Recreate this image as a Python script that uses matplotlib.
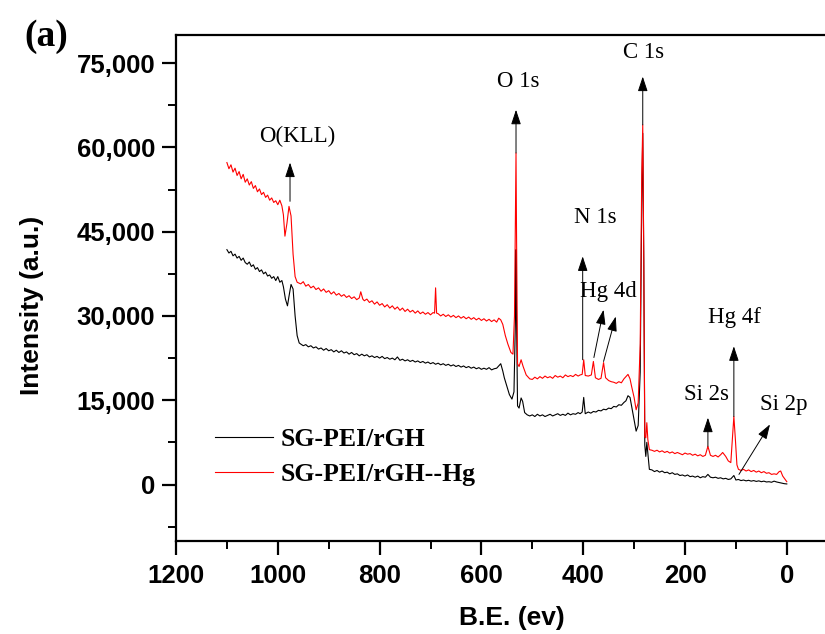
import matplotlib.pyplot as plt
from matplotlib.ticker import MultipleLocator

# (binding energy eV, intensity)
spec_rgh = [
    (1100, 41800), (1096, 41200), (1092, 41500), (1088, 40700), (1084, 41000), (1080, 40300), (1076, 40600),
    (1072, 39900), (1068, 40300), (1064, 39500), (1060, 39200), (1056, 39600), (1052, 38800), (1048, 39100),
    (1044, 38300), (1040, 38600), (1036, 37900), (1032, 38200), (1028, 37500), (1024, 37800), (1020, 37100),
    (1016, 37300), (1012, 36700), (1008, 37000), (1004, 36300), (1000, 37000), (996, 36000), (992, 36300),
    (989, 35200), (985, 33000), (981, 31800), (978, 33500), (974, 35600), (970, 34800), (966, 30000),
    (962, 26500), (958, 25200), (955, 25000), (950, 24700), (945, 24900), (940, 24500), (935, 24700),
    (930, 24300), (925, 24500), (920, 24100), (915, 24300), (910, 23900), (905, 24200), (900, 23800),
    (895, 24000), (890, 23600), (885, 23900), (880, 23500), (875, 23800), (870, 23400), (865, 23600),
    (860, 23200), (855, 23500), (850, 23100), (845, 23300), (840, 22900), (835, 23200), (830, 22900),
    (825, 23100), (820, 22700), (815, 22900), (810, 22600), (805, 22800), (800, 22500), (795, 22800),
    (790, 22400), (785, 22600), (780, 22300), (775, 22500), (770, 22200), (765, 22700), (760, 22100),
    (755, 22300), (750, 22000), (745, 22200), (740, 21900), (735, 22100), (730, 21800), (725, 22000),
    (720, 21700), (715, 21900), (710, 21600), (705, 21800), (700, 21500), (695, 21700), (690, 21400),
    (685, 21600), (680, 21300), (675, 21500), (670, 21200), (665, 21400), (660, 21100), (655, 21300),
    (650, 21000), (645, 21200), (640, 20900), (635, 21100), (630, 20800), (625, 21000), (620, 20700),
    (615, 20900), (610, 20600), (605, 20800), (600, 20500), (595, 20700), (590, 20500), (585, 20800),
    (580, 20400), (575, 20600), (570, 20700), (566, 21100), (562, 21500), (558, 20200), (555, 19000),
    (550, 17500), (545, 16000), (540, 15200), (536, 16500), (533, 30000), (532, 41800), (531, 30000),
    (529, 14000), (526, 13600), (522, 15400), (519, 14800), (515, 12800), (510, 12400), (505, 12200),
    (500, 12400), (495, 12100), (490, 12500), (485, 12200), (480, 12400), (475, 12100), (470, 12300),
    (465, 12500), (460, 12200), (455, 12400), (450, 12600), (445, 12300), (440, 12500), (435, 12300),
    (430, 12700), (425, 12400), (420, 12600), (415, 12500), (410, 12800), (406, 12600), (402, 12900),
    (399, 15500), (396, 12600), (390, 12900), (385, 12700), (380, 13000), (375, 12900), (370, 13200),
    (365, 13100), (360, 13400), (355, 13300), (350, 13600), (345, 13500), (340, 13900), (335, 13800),
    (330, 14200), (325, 14100), (320, 14600), (316, 14900), (312, 15800), (308, 15500), (305, 14000),
    (300, 11500), (296, 9500), (292, 10500), (288, 20000), (285, 50000), (283, 62500), (281, 40000),
    (279, 7000), (277, 5000), (275, 7500), (273, 5500), (270, 2700), (265, 2600), (260, 2300), (255, 2500),
    (250, 2200), (245, 2400), (240, 2100), (235, 2200), (230, 1900), (225, 2100), (220, 1800), (215, 1900),
    (210, 1600), (205, 1700), (200, 1500), (195, 1700), (190, 1400), (185, 1500), (180, 1300), (175, 1500),
    (170, 1200), (165, 1400), (160, 1300), (155, 1800), (150, 1300), (145, 1200), (140, 1300), (135, 1100),
    (130, 1200), (125, 1000), (120, 1100), (115, 900), (110, 1000), (104, 1600), (100, 800), (95, 900),
    (90, 700), (85, 800), (80, 650), (75, 750), (70, 600), (65, 700), (60, 550), (55, 650), (50, 500),
    (45, 600), (40, 450), (35, 500), (30, 400), (25, 600), (20, 450), (15, 350), (10, 250), (5, 150), (0, 100),
]

spec_hg = [
    (1100, 57300), (1096, 56200), (1092, 56900), (1088, 55600), (1084, 56300), (1080, 55000), (1076, 55700),
    (1072, 54400), (1068, 55200), (1064, 53800), (1060, 54400), (1056, 53300), (1052, 53900), (1048, 52700),
    (1044, 53200), (1040, 52100), (1036, 52600), (1032, 51600), (1028, 52000), (1024, 51100), (1020, 51500),
    (1016, 50600), (1012, 51000), (1008, 50200), (1004, 50500), (1000, 49800), (996, 50600), (992, 49600),
    (989, 48000), (986, 44200), (982, 46500), (978, 49500), (974, 47800), (970, 41000), (966, 37000),
    (962, 36000), (955, 35700), (950, 36100), (945, 35300), (940, 35600), (935, 35000), (930, 35300),
    (925, 34700), (920, 35000), (915, 34400), (910, 34800), (905, 34200), (900, 34500), (895, 33900),
    (890, 34300), (885, 33700), (880, 34000), (875, 33500), (870, 33800), (865, 33300), (860, 33600),
    (855, 33100), (850, 33400), (845, 32900), (840, 33200), (837, 34300), (833, 33000), (830, 32700),
    (825, 33000), (820, 32400), (815, 32700), (810, 32100), (805, 32500), (800, 31900), (795, 32200),
    (790, 31600), (785, 32000), (780, 31400), (775, 31800), (770, 31200), (765, 31600), (760, 31000),
    (755, 31400), (750, 30800), (745, 31200), (740, 30700), (735, 31000), (730, 30500), (725, 30900),
    (720, 30400), (715, 30700), (710, 30300), (705, 30600), (700, 30200), (695, 30600), (692, 30500),
    (690, 35000), (688, 30500), (685, 30400), (680, 30000), (675, 30300), (670, 29900), (665, 30200),
    (660, 29800), (655, 30100), (650, 29700), (645, 30000), (640, 29600), (635, 29900), (630, 29500),
    (625, 29800), (620, 29400), (615, 29700), (610, 29300), (605, 29600), (600, 29200), (595, 29500),
    (590, 29100), (585, 29400), (580, 29000), (575, 29300), (570, 28900), (566, 29600), (562, 29300),
    (558, 28500), (553, 26500), (548, 25000), (542, 23500), (538, 23200), (535, 30000), (533, 50000),
    (532, 59000), (531, 45000), (529, 21500), (526, 21000), (522, 22200), (518, 21000), (512, 19500),
    (505, 18800), (500, 18700), (495, 19100), (490, 18800), (485, 19200), (480, 18900), (475, 19300),
    (470, 19000), (465, 19200), (460, 18900), (455, 19400), (450, 19100), (445, 19300), (440, 19000),
    (435, 19500), (430, 19200), (425, 19400), (420, 19200), (415, 19600), (410, 19300), (406, 19500),
    (402, 19600), (399, 22200), (396, 19400), (390, 19300), (384, 19500), (380, 21900), (376, 19000),
    (370, 18700), (365, 18900), (360, 21700), (356, 19000), (350, 18500), (345, 18300), (340, 18200),
    (335, 18000), (330, 18300), (325, 18100), (320, 18800), (316, 19200), (312, 19600), (308, 18800),
    (305, 17500), (300, 15500), (296, 13300), (292, 14500), (288, 25000), (285, 55000), (283, 64000),
    (281, 40000), (279, 8500), (277, 8300), (275, 11000), (273, 8000), (270, 6200), (265, 6100), (260, 5900),
    (255, 6100), (250, 5800), (245, 6000), (240, 5700), (235, 5900), (230, 5600), (225, 5800), (220, 5500),
    (215, 5700), (210, 5500), (205, 5300), (200, 5600), (195, 5400), (190, 5500), (185, 5200), (180, 5400),
    (175, 5100), (170, 5300), (165, 5000), (160, 5200), (155, 6800), (150, 5200), (145, 5000), (140, 5200),
    (135, 4900), (130, 5300), (126, 5700), (120, 5000), (115, 4200), (110, 3900), (107, 8000), (104, 12100),
    (101, 8000), (98, 3500), (95, 2700), (90, 2500), (85, 2700), (80, 2400), (75, 2600), (70, 2300),
    (65, 2500), (60, 2200), (55, 2400), (50, 2100), (45, 2300), (40, 2000), (35, 2100), (30, 1800),
    (25, 1900), (20, 1800), (15, 2300), (12, 2400), (8, 1500), (4, 1000), (0, 500),
]

series_names = ['SG-PEI/rGH', 'SG-PEI/rGH--Hg']
x_ticks = [1200, 1000, 800, 600, 400, 200, 0]
y_ticks = [0, 15000, 30000, 45000, 60000, 75000]
y_tick_labels = ['0', '15,000', '30,000', '45,000', '60,000', '75,000']

# peak labels: text, text position, arrow start, arrow tip
peak_labels = ['O(KLL)', 'O 1s', 'C 1s', 'N 1s', 'Hg 4d', 'Hg 4f', 'Si 2s', 'Si 2p']
label_pos = [(961, 61900), (528, 71700), (281, 76800), (377, 47500), (350, 34400), (102, 29700),
             (157, 16000), (6, 14200)]
arrows = [((976, 50400), (976, 57300)), ((532, 59000), (532, 66700)), ((283, 64000), (283, 72600)),
          ((401, 22200), (401, 40600)), ((379, 22600), (360, 31100)), ((360, 21900), (336, 29900)),
          ((104, 12100), (104, 24600)), ((155, 6800), (155, 11900)), ((94, 1800), (33, 10700))]

be_rgh, int_rgh = zip(*spec_rgh)
be_hg, int_hg = zip(*spec_hg)

plt.rcParams['font.family'] = 'Liberation Sans'

fig = plt.figure(figsize=(8.25, 6.34), dpi=100)
ax = fig.add_axes([176 / 825, 93.3 / 634, 661.7 / 825, 505.7 / 634])

ax.plot(be_rgh, int_rgh, color='black', lw=0.8, label=series_names[0])
ax.plot(be_hg, int_hg, color='red', lw=0.8, label=series_names[1])

ax.set_xlim(1200, -100)
ax.set_ylim(-10000, 80000)

ax.set_xticks(x_ticks)
ax.set_yticks(y_ticks)
ax.set_yticklabels(y_tick_labels)
ax.xaxis.set_minor_locator(MultipleLocator(100))
ax.yaxis.set_minor_locator(MultipleLocator(7500))
ax.tick_params(which='major', direction='out', length=10, width=1.6, labelsize=18.5)
ax.tick_params(which='minor', direction='out', length=6, width=1.4)
ax.tick_params(axis='x', pad=7)
ax.tick_params(axis='y', pad=5)
for lab in ax.get_xticklabels() + ax.get_yticklabels():
    lab.set_fontweight('bold')
for sp in ax.spines.values():
    sp.set_linewidth(1.6)

ax.set_xlabel('B.E. (ev)', fontsize=19, fontweight='bold')
ax.set_ylabel('Intensity (a.u.)', fontsize=19, fontweight='bold')
ax.xaxis.set_label_coords(0.508, -0.13)
ax.yaxis.set_label_coords(-0.20, 0.466)

# arrows
for start, tip in arrows:
    ax.annotate('', xy=tip, xytext=start,
                arrowprops=dict(arrowstyle='-|>,head_length=0.6,head_width=0.2', color='black',
                                lw=0.7, mutation_scale=15, shrinkA=0, shrinkB=0))
for txt, (tx, ty) in zip(peak_labels, label_pos):
    ax.text(tx, ty, txt, ha='center', va='center', fontsize=16.5, family='Liberation Serif')

ax.legend(loc='upper left', bbox_to_anchor=(0.024, 0.268), frameon=False, handlelength=2.26,
          handletextpad=0.3, prop={'family': 'Liberation Serif', 'weight': 'bold', 'size': 18.5},
          labelspacing=0.45)

fig.text(0.056, 0.943, '(a)', fontsize=27, fontweight='bold', family='Liberation Serif',
         ha='center', va='center')

fig.savefig('out.png', dpi=100)
